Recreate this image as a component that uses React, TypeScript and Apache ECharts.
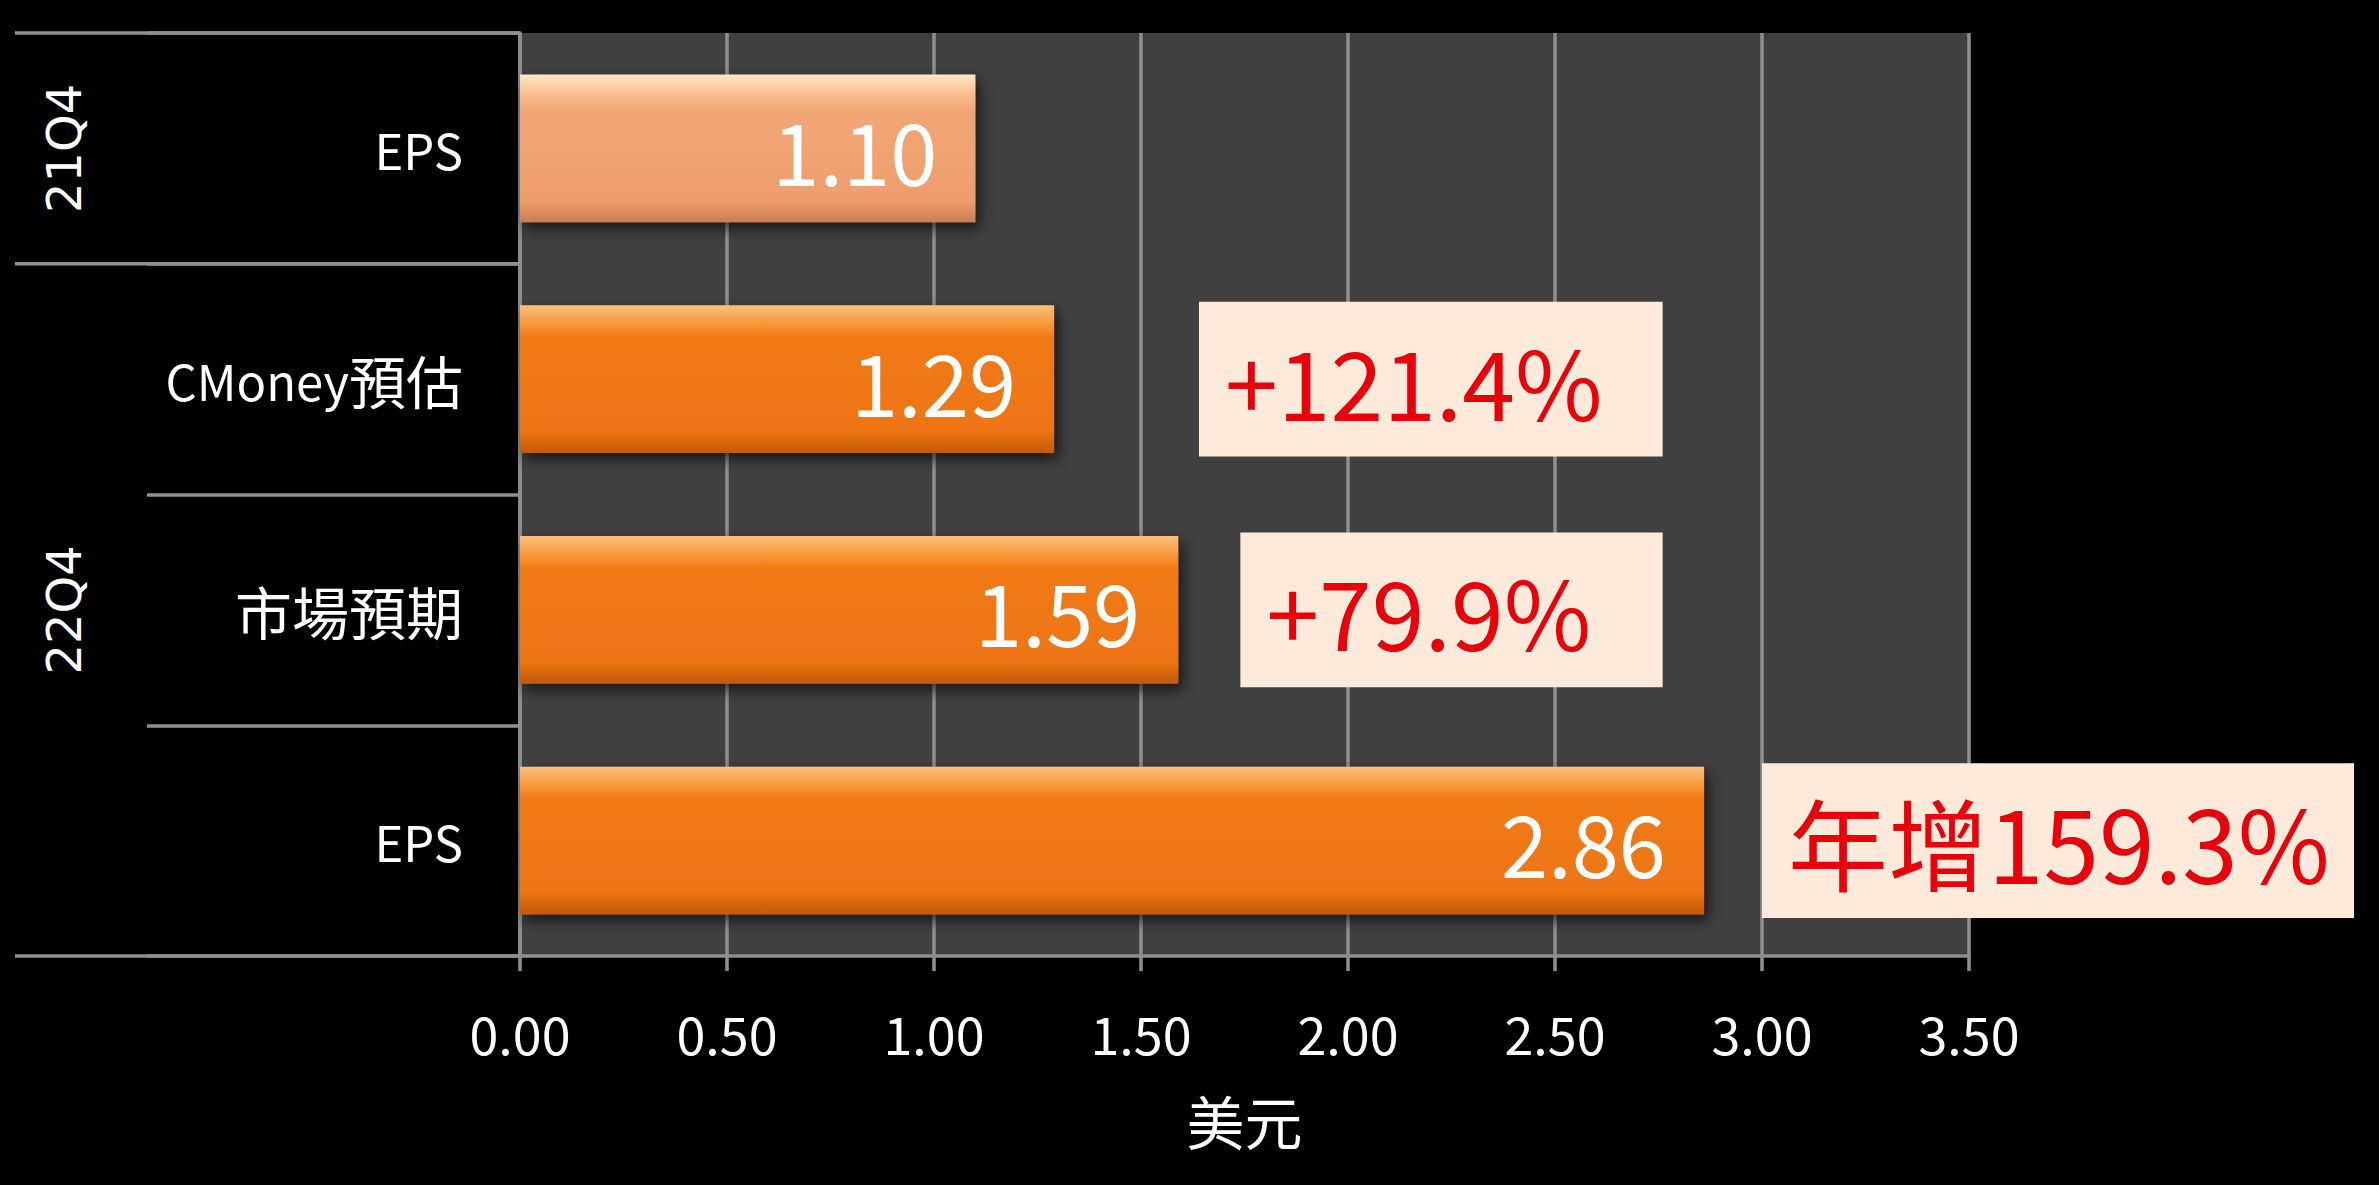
import React, { useEffect, useRef } from 'react';
import * as echarts from 'echarts';

const categories = ['EPS', 'CMoney預估', '市場預期', 'EPS'];
const epsValues = [1.1, 1.29, 1.59, 2.86];
const groupLabels = ['21Q4', '22Q4'];
const groupFirst = [0, 1];
const groupLast = [0, 3];
const xMin = 0;
const xMax = 3.5;
const xStep = 0.5;
const axisName = '美元';
const annotTexts = ['+121.4%', '+79.9%', '年增159.3%'];
const annotCategory = [1, 2, 3];
const annotFrom = [1.64, 1.74, 3.0];
const annotTo = [2.76, 2.76, 4.43];

const FONT = '"Noto Sans CJK TC", "Noto Sans", sans-serif';
const LINE = '#8f8f8f';

const lightBar = new echarts.graphic.LinearGradient(0, 0, 0, 1, [
  { offset: 0, color: '#FFE6C4' },
  { offset: 0.14, color: '#F8BC8E' },
  { offset: 0.24, color: '#F2A676' },
  { offset: 0.85, color: '#EE9E6C' },
  { offset: 1, color: '#C97E52' },
]);
const orangeBar = new echarts.graphic.LinearGradient(0, 0, 0, 1, [
  { offset: 0, color: '#FDC07E' },
  { offset: 0.12, color: '#F89A3C' },
  { offset: 0.22, color: '#F07A14' },
  { offset: 0.85, color: '#EE7512' },
  { offset: 1, color: '#C25A08' },
]);

const richLabel = (s: string) =>
  (s.match(/[\u3000-\u9fff]+|[^\u3000-\u9fff]+/g) || [])
    .map((run) => (/[\u3000-\u9fff]/.test(run) ? `{c|${run}}` : `{l|${run}}`))
    .join('');

export default function App() {
  const ref = useRef<HTMLDivElement>(null);
  useEffect(() => {
    document.body.style.margin = '0';
    const chart = echarts.init(ref.current!, null, { renderer: 'svg' });
    chart.setOption({
      animation: false,
      backgroundColor: '#000000',
      grid: {
        left: 520,
        right: 410,
        top: 33,
        bottom: 229,
        show: true,
        backgroundColor: '#404040',
        borderWidth: 0,
      },
      xAxis: {
        type: 'value',
        min: xMin,
        max: xMax,
        interval: xStep,
        name: axisName,
        nameLocation: 'middle',
        nameGap: 135,
        nameTextStyle: { color: '#ffffff', fontSize: 58, fontFamily: FONT },
        axisLine: { show: true, lineStyle: { color: LINE, width: 3.5 } },
        axisTick: { show: true, length: 15, lineStyle: { color: LINE, width: 3.5 } },
        splitLine: { show: true, lineStyle: { color: LINE, width: 3.5 } },
        axisLabel: {
          color: '#ffffff',
          fontSize: 52,
          fontFamily: FONT,
          margin: 50,
          formatter: (v: number) => v.toFixed(2),
        },
      },
      yAxis: {
        type: 'category',
        inverse: true,
        data: categories,
        axisLine: { show: true, lineStyle: { color: LINE, width: 3.5 } },
        axisTick: { show: true, length: 373, lineStyle: { color: LINE, width: 3.5 } },
        axisLabel: {
          color: '#ffffff',
          fontFamily: FONT,
          margin: 57,
          formatter: (v: string) => richLabel(v),
          rich: {
            l: { color: '#ffffff', fontSize: 49, fontFamily: FONT },
            c: { color: '#ffffff', fontSize: 57, fontFamily: FONT },
          },
        },
        splitLine: { show: false },
      },
      series: [
        {
          type: 'bar',
          data: epsValues.map((v, i) => ({
            value: v,
            itemStyle: { color: i === 0 ? lightBar : orangeBar },
          })),
          barCategoryGap: '36%',
          itemStyle: {
            shadowColor: 'rgba(0,0,0,0.65)',
            shadowBlur: 14,
            shadowOffsetX: 4,
            shadowOffsetY: 6,
          },
          label: {
            show: true,
            position: 'insideRight',
            distance: 38,
            color: '#ffffff',
            fontSize: 85,
            fontFamily: FONT,
            formatter: (p: any) => Number(p.value).toFixed(2),
          },
        },
      ],
    });

    const px = (x: number, y: number) => chart.convertToPixel({ gridIndex: 0 }, [x, y]) as number[];
    const c0 = px(0, 0);
    const band = px(0, 1)[1] - c0[1];
    const left = c0[0];
    const graphics: any[] = [];
    const outerX = 15;
    const boundaries = [groupFirst[0] - 0.5, groupFirst[1] - 0.5, groupLast[1] + 0.5];
    boundaries.forEach((b) => {
      const y = c0[1] + band * b;
      graphics.push({
        type: 'line',
        shape: { x1: outerX, y1: y, x2: left, y2: y },
        style: { stroke: LINE, lineWidth: 3.5 },
        z: 10,
      });
    });
    groupLabels.forEach((g, i) => {
      const yc = c0[1] + band * ((groupFirst[i] + groupLast[i]) / 2);
      graphics.push({
        type: 'text',
        x: 64,
        y: yc,
        rotation: Math.PI / 2,
        style: {
          text: g,
          fill: '#ffffff',
          fontSize: 48,
          fontFamily: '"DejaVu Sans", sans-serif',
          align: 'center',
          verticalAlign: 'middle',
        },
        z: 10,
      });
    });
    annotTexts.forEach((t, i) => {
      const p1 = px(annotFrom[i], annotCategory[i]);
      const p2 = px(annotTo[i], annotCategory[i]);
      const h = band * 0.67;
      graphics.push({
        type: 'rect',
        shape: { x: p1[0], y: p1[1] - h / 2, width: p2[0] - p1[0], height: h },
        style: { fill: '#FDEADA' },
        z: 20,
      });
      graphics.push({
        type: 'text',
        x: p1[0] + 26,
        y: p1[1],
        style: {
          text: t,
          fill: '#E8000A',
          fontSize: i === 2 ? 100 : 95,
          fontFamily: FONT,
          align: 'left',
          verticalAlign: 'middle',
        },
        z: 21,
      });
    });
    chart.setOption({ graphic: graphics });

    return () => chart.dispose();
  }, []);
  return (
    <div
      ref={ref}
      style={{ position: 'fixed', left: 0, top: 0, width: 2379, height: 1185 }}
    />
  );
}
